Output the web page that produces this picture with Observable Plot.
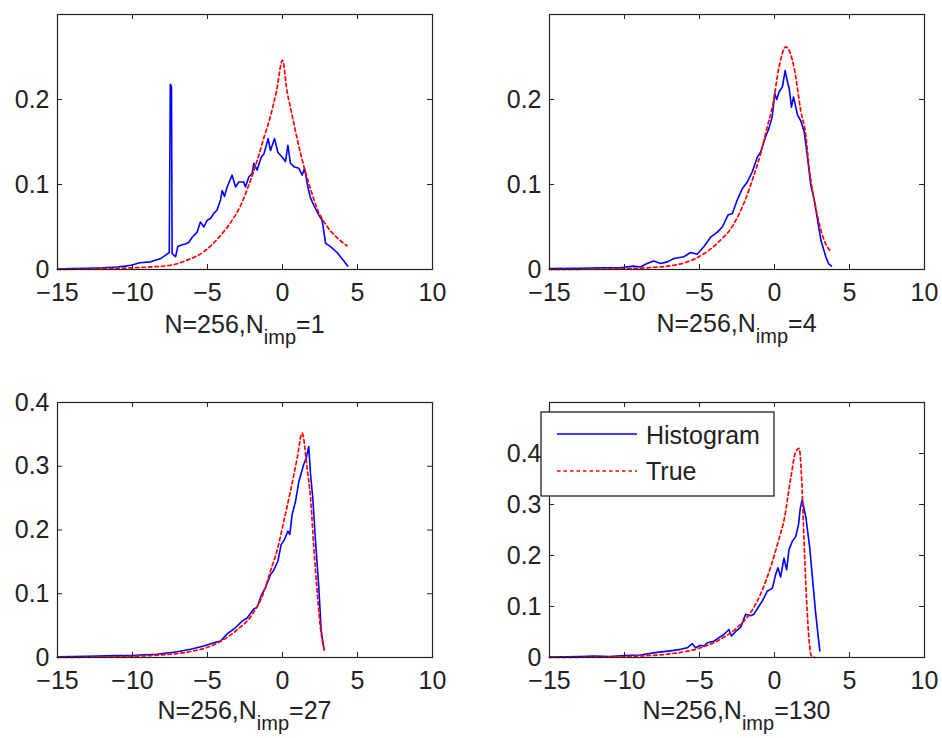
<!DOCTYPE html>
<html><head><meta charset="utf-8">
<script src="https://cdn.jsdelivr.net/npm/d3@7"></script>
<script src="https://cdn.jsdelivr.net/npm/@observablehq/plot@0.6"></script>
<style>
body{margin:0;background:#fff;font-family:"Liberation Sans",Arial,Helvetica,sans-serif;}
#root{position:relative;width:942px;height:738px;overflow:hidden;}
#root svg{position:absolute;}
</style>
</head><body><div id="root"></div>
<script>
// ---- tick labels ----
const xTicks = [-15, -10, -5, 0, 5, 10];
const yTicksTop = [0, 0.1, 0.2];
const yTicks3 = [0, 0.1, 0.2, 0.3, 0.4];
const yTicks4 = [0, 0.1, 0.2, 0.3, 0.4];
const labels = ["1", "4", "27", "130"];
const legendNames = ["Histogram", "True"];

// ---- Panel 1 (N_imp = 1) ----
const h1x = [-15,-14,-13,-12,-11,-10.5,-10.1,-9.5,-8.8,-8.1,-7.7,-7.55,-7.48,-7.4,-7.36,-7.25,-7.13,-6.98,-6.69,-6.47,-6.24,-6.02,-5.69,-5.47,-5.24,-5.02,-4.8,-4.58,-4.36,-4.13,-4.02,-3.87,-3.69,-3.36,-3.13,-2.91,-2.58,-2.47,-2.24,-2.02,-1.91,-1.69,-1.42,-1.24,-0.96,-0.8,-0.53,-0.31,-0.02,0.2,0.36,0.53,0.76,1.09,1.31,1.47,1.69,1.87,2.1,2.42,2.64,2.87,3.2,3.64,4.0,4.35];
const h1y = [0.0005,0.001,0.0015,0.002,0.003,0.004,0.005,0.008,0.009,0.013,0.018,0.02,0.218,0.215,0.019,0.017,0.015,0.027,0.029,0.030,0.032,0.038,0.044,0.056,0.050,0.058,0.060,0.066,0.070,0.082,0.093,0.086,0.097,0.111,0.097,0.103,0.103,0.097,0.109,0.113,0.125,0.117,0.132,0.136,0.154,0.140,0.154,0.138,0.132,0.127,0.146,0.125,0.121,0.119,0.111,0.119,0.097,0.084,0.075,0.064,0.058,0.031,0.027,0.02,0.012,0.004];
const t1x = [-15,-12,-10,-8.8,-7.47,-6.36,-5.24,-4.13,-3.47,-2.8,-2.13,-1.69,-1.24,-0.84,-0.4,0,0.3,0.6,1.0,1.4,1.9,2.3,3.0,3.6,4.3];
const t1y = [0,0.001,0.002,0.003,0.005,0.011,0.021,0.04,0.055,0.075,0.105,0.128,0.155,0.178,0.21,0.246,0.21,0.185,0.152,0.123,0.093,0.072,0.05,0.038,0.028];

// ---- Panel 2 (N_imp = 4) ----
const h2x = [-15,-13,-11.5,-10.3,-9.4,-8.94,-8.5,-8.05,-7.6,-7.15,-6.7,-6.04,-5.6,-5.16,-4.7,-4.26,-3.81,-3.48,-3.1,-2.81,-2.48,-2.15,-1.81,-1.48,-1.15,-0.93,-0.6,-0.37,-0.15,0.02,0.15,0.31,0.53,0.71,0.85,0.98,1.13,1.27,1.53,1.75,1.98,2.2,2.42,2.65,2.9,3.1,3.42,3.6,3.8];
const h2y = [0.001,0.0015,0.002,0.002,0.004,0.003,0.007,0.010,0.007,0.009,0.013,0.015,0.020,0.018,0.027,0.038,0.044,0.050,0.064,0.066,0.082,0.095,0.103,0.115,0.132,0.138,0.156,0.166,0.180,0.207,0.2,0.209,0.215,0.234,0.222,0.213,0.191,0.203,0.182,0.175,0.162,0.132,0.099,0.082,0.055,0.034,0.015,0.007,0.004];
const t2x = [-15,-10.3,-8.5,-6.7,-5.04,-3.81,-2.7,-2.04,-1.37,-0.93,-0.48,-0.1,0.3,0.75,1.3,1.75,2.1,2.3,2.65,3.1,3.5,3.83];
const t2y = [0,0.001,0.002,0.005,0.015,0.031,0.054,0.078,0.111,0.136,0.168,0.195,0.238,0.262,0.238,0.187,0.156,0.121,0.082,0.046,0.027,0.021];

// ---- Panel 3 (N_imp = 27) ----
const h3x = [-15,-13,-11,-10,-9.47,-8.36,-7.02,-6.13,-5.24,-4.58,-4.13,-3.69,-3.13,-2.69,-2.36,-1.91,-1.69,-1.42,-1.13,-0.8,-0.58,-0.31,-0.09,0.13,0.36,0.49,0.64,0.87,1.09,1.42,1.58,1.75,1.87,2.02,2.2,2.42,2.58,2.76];
const h3y = [0.001,0.002,0.003,0.003,0.004,0.005,0.009,0.013,0.018,0.023,0.026,0.037,0.047,0.057,0.062,0.076,0.079,0.097,0.110,0.130,0.137,0.151,0.177,0.185,0.198,0.193,0.224,0.245,0.276,0.303,0.313,0.331,0.287,0.25,0.183,0.11,0.042,0.013];
const t3x = [-15,-10,-8.8,-6,-5,-4,-3,-2,-1.24,-0.8,-0.36,0.09,0.53,0.98,1.31,1.64,1.87,2.09,2.31,2.53,2.8];
const t3y = [0,0.002,0.003,0.01,0.016,0.027,0.044,0.068,0.103,0.136,0.168,0.214,0.261,0.313,0.352,0.297,0.25,0.172,0.104,0.047,0.01];

// ---- Panel 4 (N_imp = 130) ----
const h4x = [-15,-13,-12,-11,-10,-8.94,-7.83,-6.71,-6.26,-5.82,-5.48,-5.26,-4.93,-4.7,-4.48,-4.04,-3.7,-3.37,-3.04,-2.88,-2.59,-2.26,-1.92,-1.59,-1.37,-1.03,-0.81,-0.48,-0.14,0.08,0.23,0.41,0.63,0.81,0.97,1.19,1.41,1.6,1.72,1.85,2.1,2.35,2.53,2.75,3.02];
const h4y = [0.001,0.002,0.003,0.002,0.004,0.005,0.01,0.014,0.016,0.019,0.027,0.019,0.024,0.022,0.029,0.032,0.039,0.045,0.055,0.042,0.051,0.059,0.085,0.082,0.085,0.101,0.111,0.130,0.136,0.163,0.176,0.158,0.195,0.172,0.212,0.228,0.237,0.26,0.293,0.309,0.273,0.215,0.156,0.085,0.013];
const t4x = [-15,-10,-8.94,-7,-6.26,-4.93,-3.59,-2.48,-1.59,-0.92,-0.25,0.31,0.64,1.08,1.41,1.64,1.82,1.97,2.13,2.31,2.46,2.7];
const t4y = [0,0.002,0.003,0.007,0.01,0.019,0.036,0.059,0.088,0.125,0.178,0.234,0.27,0.351,0.403,0.41,0.345,0.228,0.117,0.033,0.003,0];

const BLUE = "#0000ff", RED = "#ff0000", INK = "#222";
const FW = 375, FH = 255; // frame size in px
const fmt = d => d < 0 ? "\u2212" + (-d) : String(d);
const zip = (xs, ys) => xs.map((x, i) => ({x, y: ys[i]}));

function panel({left, top, yMax, yTicks, hx, hy, tx, ty}) {
  const ml = 60, mt = 20, mr = 20, mb = 50;
  const svg = Plot.plot({
    width: ml + FW + mr, height: mt + FH + mb,
    marginLeft: ml, marginTop: mt, marginRight: mr, marginBottom: mb,
    style: {fontSize: "25px", fontFamily: '"Liberation Sans", Arial, sans-serif', color: INK, background: "transparent", overflow: "visible"},
    x: {domain: [-15, 10], ticks: xTicks, tickSize: 0, tickPadding: 14, tickFormat: fmt, label: null},
    y: {domain: [0, yMax], ticks: yTicks, tickSize: 0, tickPadding: 8, tickFormat: fmt, label: null},
    marks: [
      Plot.line(zip(hx, hy), {x: "x", y: "y", stroke: BLUE, strokeWidth: 1.6, strokeLinejoin: "round"}),
      Plot.line(zip(tx, ty), {x: "x", y: "y", stroke: RED, strokeWidth: 1.7, strokeDasharray: "3.5,3", curve: "monotone-x"}),
      Plot.frame({stroke: INK, strokeWidth: 1.2}),
      Plot.ruleX(xTicks, {x: d => d, insetTop: FH - 5, stroke: INK}),
      Plot.ruleX(xTicks, {x: d => d, insetBottom: FH - 5, stroke: INK}),
      Plot.ruleY(yTicks, {y: d => d, insetRight: FW - 5, stroke: INK}),
      Plot.ruleY(yTicks, {y: d => d, insetLeft: FW - 5, stroke: INK})
    ]
  });
  svg.style.left = (left - ml) + "px";
  svg.style.top = (top - mt) + "px";
  document.getElementById("root").appendChild(svg);
}

panel({left: 57, top: 14, yMax: 0.3, yTicks: yTicksTop, hx: h1x, hy: h1y, tx: t1x, ty: t1y});
panel({left: 549, top: 14, yMax: 0.3, yTicks: yTicksTop, hx: h2x, hy: h2y, tx: t2x, ty: t2y});
panel({left: 57, top: 401.5, yMax: 0.4, yTicks: yTicks3, hx: h3x, hy: h3y, tx: t3x, ty: t3y});
panel({left: 549, top: 401.5, yMax: 0.5, yTicks: yTicks4, hx: h4x, hy: h4y, tx: t4x, ty: t4y});

// ---- x labels and legend overlay ----
const ov = d3.select("#root").append("svg")
  .attr("width", 942).attr("height", 738)
  .style("left", "0px").style("top", "0px")
  .style("font-family", '"Liberation Sans", Arial, sans-serif')
  .attr("fill", INK);

const labelPos = [[244.5, 333], [736.5, 332], [244.5, 718.5], [736.5, 718.5]];
labelPos.forEach(([cx, by], i) => {
  const t = ov.append("text").attr("x", cx).attr("y", by).attr("text-anchor", "middle").attr("font-size", 25);
  t.append("tspan").text("N=256,N");
  t.append("tspan").attr("font-size", 20).attr("dy", 11).text("imp");
  t.append("tspan").attr("dy", -11).text("=" + labels[i]);
});

const lg = ov.append("g");
lg.append("rect").attr("x", 541).attr("y", 412).attr("width", 233).attr("height", 84)
  .attr("fill", "#fff").attr("stroke", INK).attr("stroke-width", 1.3);
lg.append("line").attr("x1", 557).attr("x2", 637).attr("y1", 434).attr("y2", 434)
  .attr("stroke", BLUE).attr("stroke-width", 1.6);
lg.append("line").attr("x1", 557).attr("x2", 637).attr("y1", 471).attr("y2", 471)
  .attr("stroke", RED).attr("stroke-width", 1.7).attr("stroke-dasharray", "3.5,3");
lg.append("text").attr("x", 646).attr("y", 443.5).attr("font-size", 25).text(legendNames[0]);
lg.append("text").attr("x", 646).attr("y", 480).attr("font-size", 25).text(legendNames[1]);
</script>
</body></html>
